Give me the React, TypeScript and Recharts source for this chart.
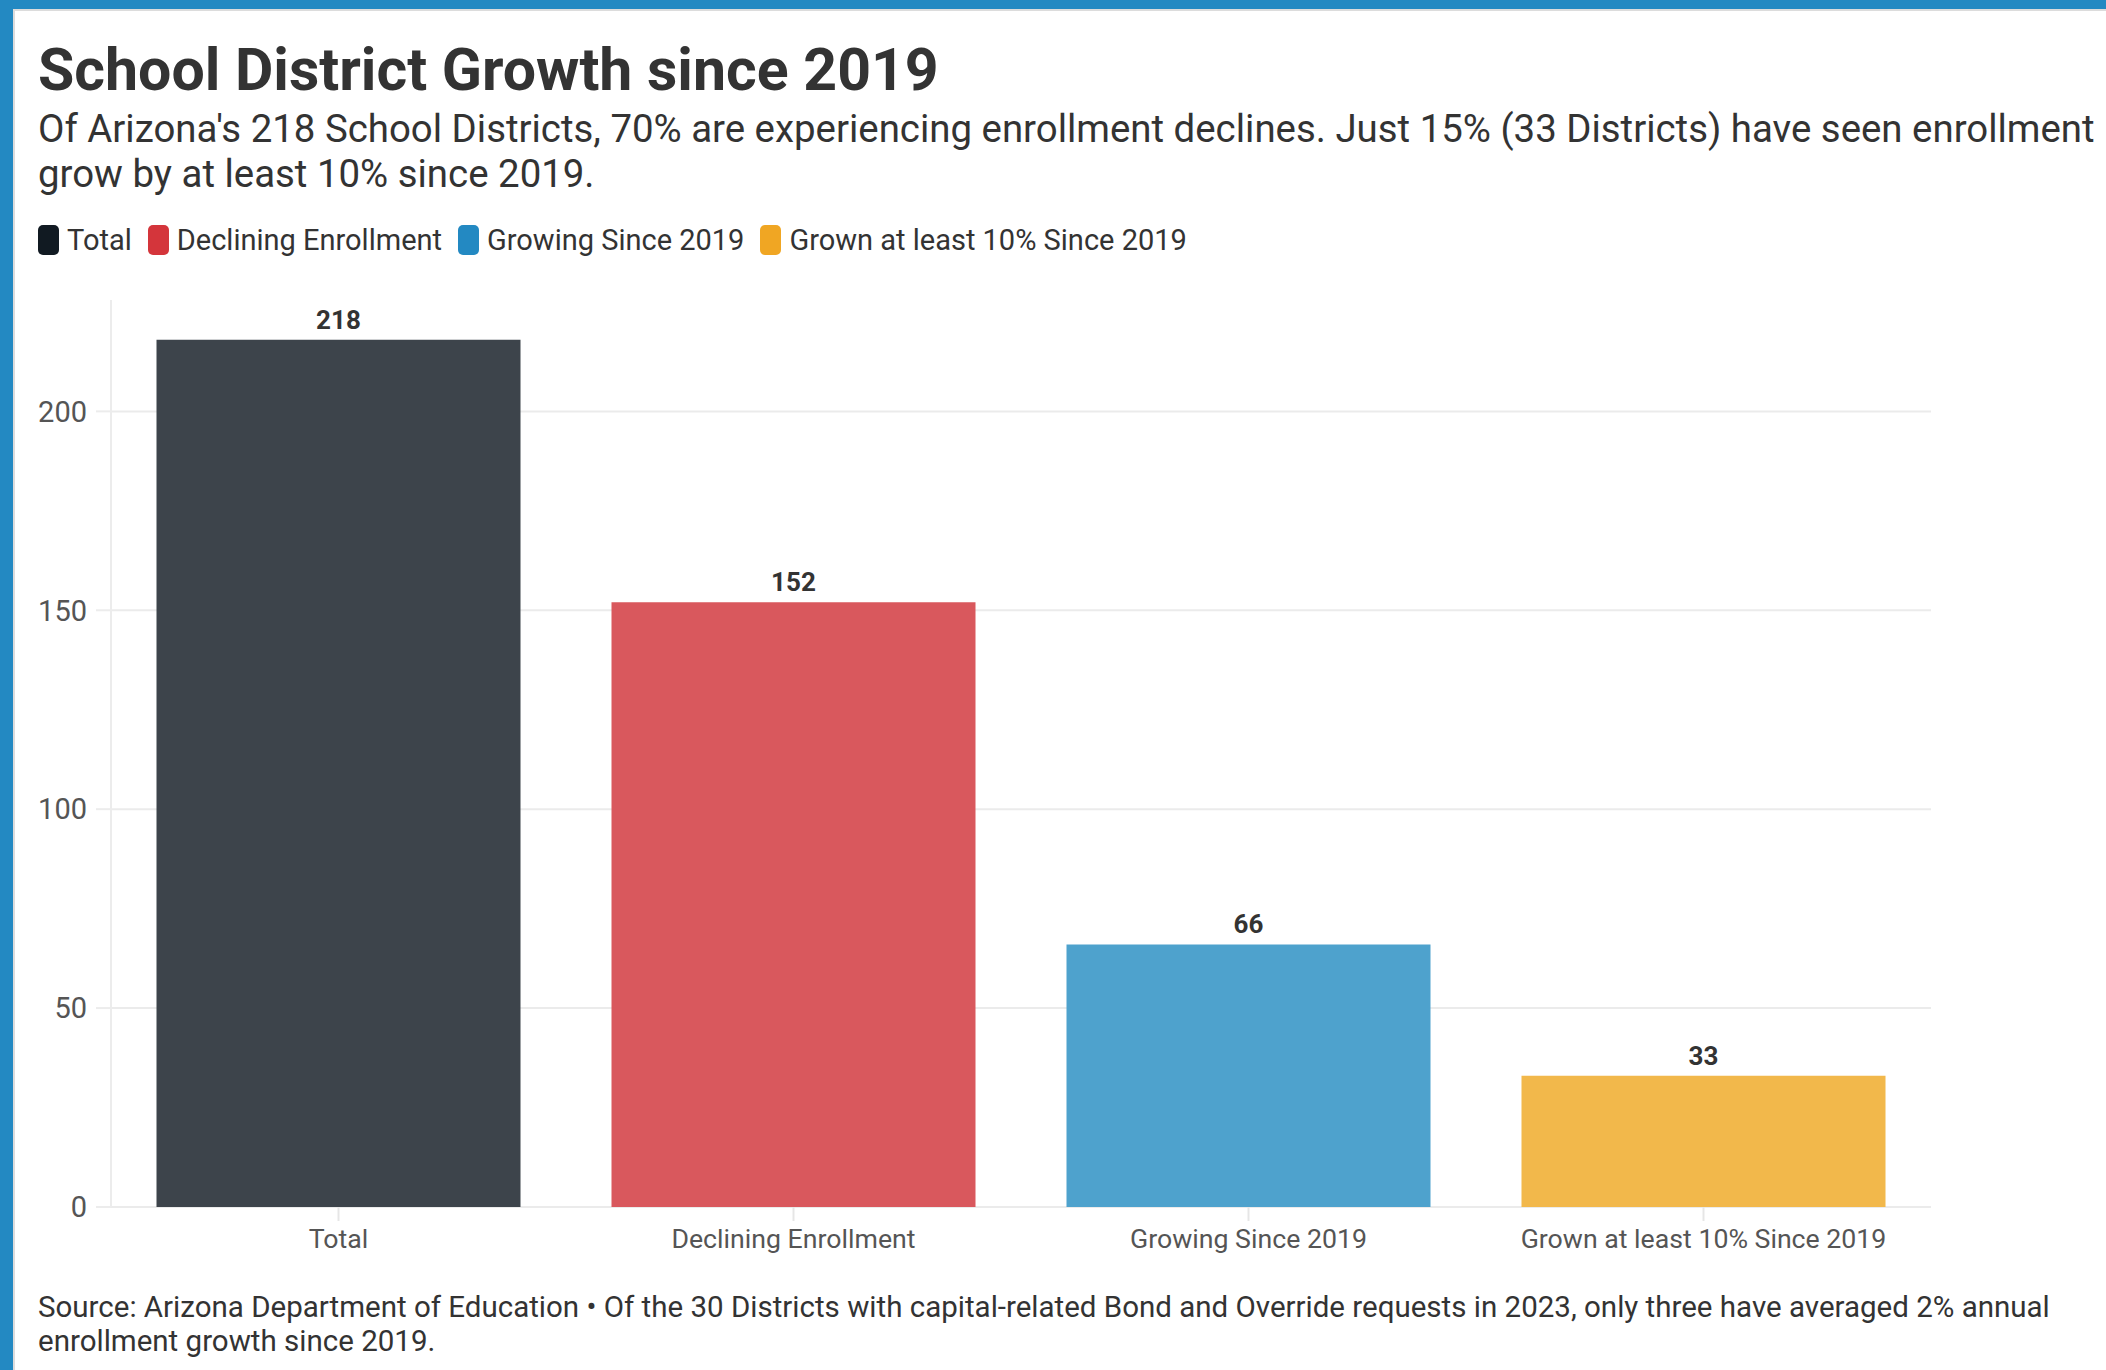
import React from 'react';
import { BarChart, Bar, XAxis, YAxis, CartesianGrid, Cell, LabelList } from 'recharts';

const categories = ['Total', 'Declining Enrollment', 'Growing Since 2019', 'Grown at least 10% Since 2019'];
const districtCounts = [218, 152, 66, 33];
const barColors = ['#3d444b', '#d9585d', '#4ea2cd', '#f2b84b'];
const legendColors = ['#111a22', '#d4353b', '#2389c2', '#f0a623'];
const yTicks = [0, 50, 100, 150, 200];

const titleText = 'School District Growth since 2019';
const subtitleLines = [
  "Of Arizona's 218 School Districts, 70% are experiencing enrollment declines. Just 15% (33 Districts) have seen enrollment",
  'grow by at least 10% since 2019.',
];
const footerLines = [
  'Source: Arizona Department of Education \u2022 Of the 30 Districts with capital-related Bond and Override requests in 2023, only three have averaged 2% annual',
  'enrollment growth since 2019.',
];

const data = categories.map((name, i) => ({ name, value: districtCounts[i] }));

const FONT = 'Roboto, "Noto Sans", sans-serif';

export default function App() {
  return (
    <div
      style={{
        position: 'absolute',
        left: 0,
        top: 0,
        width: 2106,
        height: 1370,
        background: '#ffffff',
        overflow: 'hidden',
        fontFamily: FONT,
      }}
    >
      {/* frame */}
      <div style={{ position: 'absolute', left: 0, top: 0, width: 2106, height: 9, background: '#2389c2' }} />
      <div style={{ position: 'absolute', left: 13, top: 9, width: 2093, height: 2, background: '#dcdcdc' }} />
      <div style={{ position: 'absolute', left: 0, top: 0, width: 13, height: 1370, background: '#2389c2' }} />
      <div style={{ position: 'absolute', left: 13, top: 9, width: 2, height: 1361, background: '#dcdcdc' }} />

      <div style={{ position: 'absolute', left: 0, top: 0 }}>
        <BarChart
          width={2106}
          height={1370}
          data={data}
          margin={{ top: 300, right: 175, bottom: 113, left: 0 }}
          barCategoryGap="10%"
        >
          <CartesianGrid vertical={false} stroke="#ebebeb" strokeWidth={2} syncWithTicks={true} />
          <YAxis
            type="number"
            domain={[0, 228]}
            ticks={yTicks}
            width={111}
            axisLine={{ stroke: '#ececec', strokeWidth: 2 }}
            tickLine={{ stroke: '#ececec', strokeWidth: 2 }}
            tickSize={15}
            tickMargin={9}
            tick={{ fontSize: 29, fill: '#555555', fontFamily: FONT }}
          />
          <XAxis
            dataKey="name"
            axisLine={false}
            tickLine={{ stroke: '#e6e6e6', strokeWidth: 2 }}
            tickSize={14}
            tickMargin={8}
            height={50}
            interval={0}
            tick={{ fontSize: 26.7, fill: '#555555', fontFamily: FONT }}
          />
          <Bar dataKey="value" isAnimationActive={false}>
            {data.map((d, i) => (
              <Cell key={d.name} fill={barColors[i]} />
            ))}
            <LabelList
              dataKey="value"
              position="top"
              offset={11}
              style={{ fontSize: 26, fontWeight: 700, fill: '#333333', fontFamily: FONT }}
            />
          </Bar>
        </BarChart>
      </div>

      {/* title */}
      <div
        style={{
          position: 'absolute',
          left: 38,
          top: 40,
          fontSize: 59,
          lineHeight: '59px',
          fontWeight: 700,
          color: '#333333',
          whiteSpace: 'nowrap',
        }}
      >
        {titleText}
      </div>

      {/* subtitle */}
      <div
        style={{
          position: 'absolute',
          left: 38,
          top: 106,
          fontSize: 38.4,
          lineHeight: '45px',
          color: '#333333',
          whiteSpace: 'nowrap',
        }}
      >
        {subtitleLines.map((l) => (
          <div key={l}>{l}</div>
        ))}
      </div>

      {/* legend */}
      <div
        style={{
          position: 'absolute',
          left: 38,
          top: 225,
          display: 'flex',
          alignItems: 'center',
          height: 30,
          whiteSpace: 'nowrap',
        }}
      >
        {categories.map((c, i) => (
          <div key={c} style={{ display: 'flex', alignItems: 'center', marginRight: 16 }}>
            <div
              style={{
                width: 21,
                height: 30,
                borderRadius: 5,
                background: legendColors[i],
                marginRight: 8,
              }}
            />
            <span style={{ fontSize: 29, lineHeight: '30px', color: '#333333' }}>{c}</span>
          </div>
        ))}
      </div>

      {/* footer */}
      <div
        style={{
          position: 'absolute',
          left: 38,
          top: 1290,
          fontSize: 29.5,
          lineHeight: '34px',
          color: '#333333',
          whiteSpace: 'nowrap',
        }}
      >
        {footerLines.map((l) => (
          <div key={l}>{l}</div>
        ))}
      </div>
    </div>
  );
}
